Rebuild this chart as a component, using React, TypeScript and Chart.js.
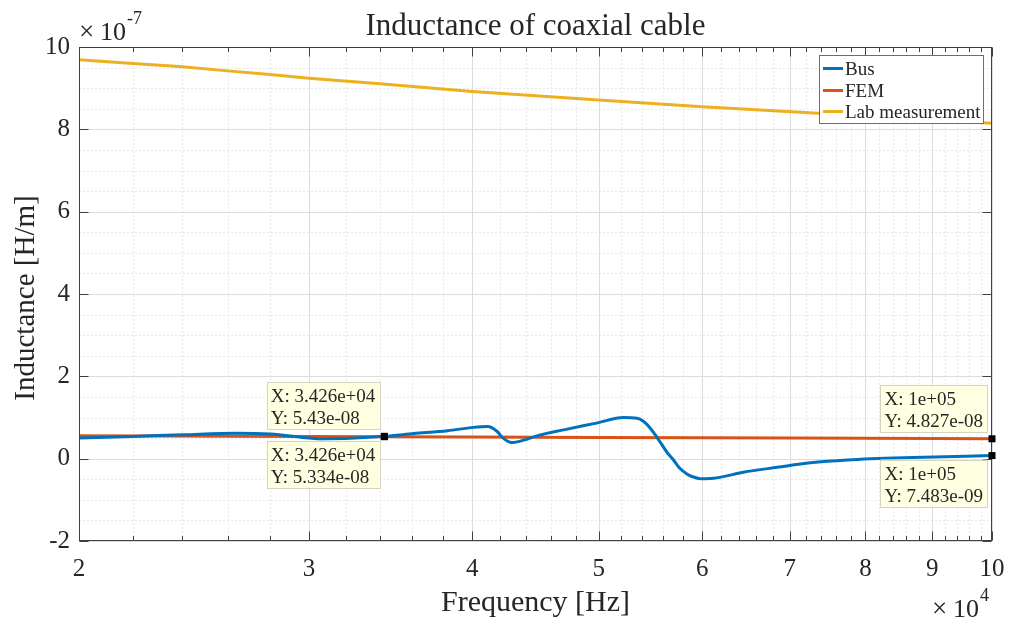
import React, { useEffect, useRef } from "react";
import { Chart, registerables } from "chart.js";

Chart.register(...registerables);

// ---------- data ----------
const busFreq = [
  20000, 22000, 24000, 26400, 28000, 30000, 30600, 32000, 34260, 36100, 38300,
  40100, 41100, 41800, 42200, 42900, 43800, 44900, 47000, 49900, 52200, 53500,
  54400, 55400, 56400, 57000, 57700, 58400, 59000, 59800, 61200, 64500, 68500, 72600,
  77500, 87000, 100000,
];
const busValues = [
  5.0e-8, 5.4e-8, 5.8e-8, 6.2e-8, 6.0e-8, 5.0e-8, 4.8e-8, 4.9e-8, 5.43e-8, 6.1e-8, 6.8e-8,
  7.6e-8, 7.8e-8, 6.6e-8, 5.1e-8, 3.9e-8, 4.5e-8, 5.6e-8, 7.0e-8, 8.7e-8, 1.0e-7, 9.8e-8,
  8.4e-8, 5.2e-8, 1.5e-8, -0.2e-8, -2.4e-8, -3.7e-8, -4.4e-8, -4.85e-8, -4.75e-8, -3.3e-8, -2.1e-8, -1.0e-8,
  -0.3e-8, 0.3e-8, 0.7483e-8,
];

const femFreq = [20000, 30000, 34260, 40000, 50000, 60000, 70000, 80000, 90000, 100000];
const femValues = [5.57e-8, 5.38e-8, 5.334e-8, 5.25e-8, 5.15e-8, 5.06e-8, 4.99e-8, 4.93e-8, 4.88e-8, 4.827e-8];

const labFreq = [20000, 22000, 24000, 26000, 28000, 30000, 34000, 40000, 50000, 60000, 73600, 80000, 90000, 100000];
const labValues = [9.69e-7, 9.6e-7, 9.52e-7, 9.42e-7, 9.33e-7, 9.24e-7, 9.11e-7, 8.92e-7, 8.71e-7, 8.55e-7, 8.39e-7, 8.31e-7, 8.22e-7, 8.15e-7];

const seriesNames = ["Bus", "FEM", "Lab measurement"];

const xMajorTicks = [20000, 30000, 40000, 50000, 60000, 70000, 80000, 90000, 100000];
const xTickLabels = ["2", "3", "4", "5", "6", "7", "8", "9", "10"];
const yMajorTicks = [-2e-7, 0, 2e-7, 4e-7, 6e-7, 8e-7, 1e-6];
const yTickLabels = ["-2", "0", "2", "4", "6", "8", "10"];

const tipFreqs = [34260, 34260, 100000, 100000];
const tipValues = [5.43e-8, 5.334e-8, 4.827e-8, 7.483e-9];
const tipXText = ["X: 3.426e+04", "X: 3.426e+04", "X: 1e+05", "X: 1e+05"];
const tipYText = ["Y: 5.43e-08", "Y: 5.334e-08", "Y: 4.827e-08", "Y: 7.483e-09"];
const tipAbove = [true, false, true, false];

const titleText = "Inductance of coaxial cable";
const xLabelText = "Frequency [Hz]";
const yLabelText = "Inductance [H/m]";
const yExponent = "-7";
const xExponent = "4";

// ---------- styles ----------
const SERIF = "'Liberation Serif', 'Times New Roman', serif";
const TEXT = "#262626";
const COLORS = ["#0072BD", "#D95319", "#EDB120"];

function minorTicks(majors: number[], parts: number): number[] {
  const out: number[] = [];
  for (let i = 0; i < majors.length - 1; i++) {
    const step = (majors[i + 1] - majors[i]) / parts;
    for (let k = 1; k < parts; k++) out.push(majors[i] + k * step);
  }
  return out;
}

function drawExponent(ctx: CanvasRenderingContext2D, x: number, base: number, exp: string) {
  ctx.textAlign = "left";
  ctx.font = `27px ${SERIF}`;
  ctx.fillText("\u00d7", x, base);
  ctx.font = `26px ${SERIF}`;
  ctx.fillText("10", x + 21, base);
  ctx.font = `18px ${SERIF}`;
  ctx.fillText(exp, x + 48, base - 16);
}

const decorPlugin = {
  id: "decor",
  beforeDatasetsDraw(chart: any) {
    const { ctx, chartArea: a, scales } = chart;
    const x = scales.x, y = scales.y;
    ctx.save();
    ctx.lineWidth = 1;
    // minor grid
    ctx.strokeStyle = "#e8e8e8";
    ctx.setLineDash([2, 2]);
    for (const v of minorTicks(xMajorTicks, 5)) {
      const p = Math.round(x.getPixelForValue(v)) + 0.5;
      ctx.beginPath(); ctx.moveTo(p, a.top); ctx.lineTo(p, a.bottom); ctx.stroke();
    }
    for (const v of minorTicks(yMajorTicks, 4)) {
      const p = Math.round(y.getPixelForValue(v)) + 0.5;
      ctx.beginPath(); ctx.moveTo(a.left, p); ctx.lineTo(a.right, p); ctx.stroke();
    }
    // major grid
    ctx.setLineDash([]);
    ctx.strokeStyle = "#dcdcdc";
    for (const v of xMajorTicks) {
      const p = Math.round(x.getPixelForValue(v)) + 0.5;
      ctx.beginPath(); ctx.moveTo(p, a.top); ctx.lineTo(p, a.bottom); ctx.stroke();
    }
    for (const v of yMajorTicks) {
      const p = Math.round(y.getPixelForValue(v)) + 0.5;
      ctx.beginPath(); ctx.moveTo(a.left, p); ctx.lineTo(a.right, p); ctx.stroke();
    }
    ctx.restore();
  },
  afterDatasetsDraw(chart: any) {
    const { ctx, chartArea: a, scales } = chart;
    const x = scales.x, y = scales.y;
    ctx.save();
    // axes box
    ctx.strokeStyle = "#404040";
    ctx.lineWidth = 1;
    const L = Math.round(a.left) + 0.5, R = Math.round(a.right) - 0.5;
    const T = Math.round(a.top) + 0.5, B = Math.round(a.bottom) - 0.5;
    ctx.strokeRect(L, T, R - L, B - T);
    // ticks (inward)
    ctx.beginPath();
    for (const v of xMajorTicks) {
      const p = Math.round(x.getPixelForValue(v)) + 0.5;
      ctx.moveTo(p, B); ctx.lineTo(p, B - 9);
      ctx.moveTo(p, T); ctx.lineTo(p, T + 9);
    }
    for (const v of minorTicks(xMajorTicks, 5)) {
      const p = Math.round(x.getPixelForValue(v)) + 0.5;
      ctx.moveTo(p, B); ctx.lineTo(p, B - 4.5);
      ctx.moveTo(p, T); ctx.lineTo(p, T + 4.5);
    }
    for (const v of yMajorTicks) {
      const p = Math.round(y.getPixelForValue(v)) + 0.5;
      ctx.moveTo(L, p); ctx.lineTo(L + 9, p);
      ctx.moveTo(R, p); ctx.lineTo(R - 9, p);
    }
    ctx.stroke();

    // datatips
    ctx.font = `19px ${SERIF}`;
    ctx.textBaseline = "alphabetic";
    ctx.textAlign = "left";
    for (let i = 0; i < tipFreqs.length; i++) {
      const mx = x.getPixelForValue(tipFreqs[i]);
      const my = y.getPixelForValue(tipValues[i]);
      const w = Math.max(ctx.measureText(tipXText[i]).width, ctx.measureText(tipYText[i]).width) + 8;
      const h = 47;
      const right = mx - 5;
      const top = tipAbove[i] ? my - 7 - h : my + 4;
      const left = right - w;
      ctx.fillStyle = "#ffffe1";
      ctx.fillRect(left, top, w, h);
      ctx.strokeStyle = "#d4d4c4";
      ctx.strokeRect(Math.round(left) + 0.5, Math.round(top) + 0.5, Math.round(w), h);
      ctx.fillStyle = TEXT;
      ctx.fillText(tipXText[i], left + 4, top + 20);
      ctx.fillText(tipYText[i], left + 4, top + 42);
      ctx.fillStyle = "#000000";
      ctx.fillRect(mx - 3.5, my - 3.5, 7, 7);
    }

    // legend
    const lx = 819.5, ly = 55.5, lw = 164, lh = 68;
    ctx.fillStyle = "#ffffff";
    ctx.fillRect(lx, ly, lw, lh);
    ctx.strokeStyle = "#6e6e6e";
    ctx.strokeRect(lx, ly, lw, lh);
    ctx.font = `19px ${SERIF}`;
    ctx.textBaseline = "alphabetic";
    const rowY = [68.5, 90.5, 111.5];
    seriesNames.forEach((name, i) => {
      ctx.strokeStyle = COLORS[i];
      ctx.lineWidth = 3;
      ctx.beginPath(); ctx.moveTo(823, rowY[i]); ctx.lineTo(843, rowY[i]); ctx.stroke();
      ctx.fillStyle = TEXT;
      ctx.fillText(name, 845, rowY[i] + 6);
    });

    // title
    ctx.fillStyle = TEXT;
    ctx.font = `31px ${SERIF}`;
    ctx.textAlign = "center";
    ctx.fillText(titleText, (a.left + a.right) / 2, 35);

    // x label
    ctx.font = `30px ${SERIF}`;
    ctx.fillText(xLabelText, (a.left + a.right) / 2, 611);

    // y label
    ctx.save();
    ctx.translate(34, 298);
    ctx.rotate(-Math.PI / 2);
    ctx.font = `29px ${SERIF}`;
    ctx.fillText(yLabelText, 0, 0);
    ctx.restore();

    // exponent labels
    drawExponent(ctx, 79, 40, yExponent);
    drawExponent(ctx, 932, 617, xExponent);
    ctx.restore();
  },
};

function toPoints(xs: number[], ys: number[]) {
  return xs.map((v, i) => ({ x: v, y: ys[i] }));
}

export default function App() {
  const ref = useRef<HTMLCanvasElement | null>(null);
  useEffect(() => {
    if (!ref.current) return;
    const tickFont = { family: SERIF, size: 25 };
    const chart = new Chart(ref.current, {
      type: "line",
      data: {
        datasets: [
          {
            label: seriesNames[0],
            data: toPoints(busFreq, busValues),
            borderColor: COLORS[0],
            borderWidth: 3,
            pointRadius: 0,
            cubicInterpolationMode: "monotone",
            fill: false,
          },
          {
            label: seriesNames[1],
            data: toPoints(femFreq, femValues),
            borderColor: COLORS[1],
            borderWidth: 3,
            pointRadius: 0,
            tension: 0,
            fill: false,
          },
          {
            label: seriesNames[2],
            data: toPoints(labFreq, labValues),
            borderColor: COLORS[2],
            borderWidth: 3,
            pointRadius: 0,
            tension: 0,
            fill: false,
          },
        ],
      },
      options: {
        animation: false,
        responsive: false,
        maintainAspectRatio: false,
        devicePixelRatio: 1,
        parsing: false as any,
        normalized: true,
        layout: { padding: { top: 47, right: 18, left: 0, bottom: 0 } },
        plugins: {
          legend: { display: false },
          title: { display: false },
          tooltip: { enabled: false },
        },
        scales: {
          x: {
            type: "logarithmic",
            min: 20000,
            max: 100000,
            afterBuildTicks: (s: any) => {
              s.ticks = xMajorTicks.map((v) => ({ value: v }));
            },
            afterFit: (s: any) => {
              s.height = 78;
              s.paddingLeft = 0;
              s.paddingRight = 0;
            },
            ticks: {
              autoSkip: false,
              maxRotation: 0,
              minRotation: 0,
              padding: 13,
              color: TEXT,
              font: tickFont,
              callback: (v: any) => xTickLabels[xMajorTicks.indexOf(Number(v))] ?? "",
            },
            grid: { display: false, drawTicks: false },
            border: { display: false },
          },
          y: {
            type: "linear",
            min: -2e-7,
            max: 1e-6,
            afterBuildTicks: (s: any) => {
              s.ticks = yMajorTicks.map((v) => ({ value: v }));
            },
            afterFit: (s: any) => {
              s.width = 79;
              s.paddingTop = 0;
              s.paddingBottom = 0;
            },
            ticks: {
              autoSkip: false,
              padding: 9,
              color: TEXT,
              font: tickFont,
              callback: (v: any) => yTickLabels[yMajorTicks.indexOf(Number(v))] ?? "",
            },
            grid: { display: false, drawTicks: false },
            border: { display: false },
          },
        },
      } as any,
      plugins: [decorPlugin],
    });
    return () => chart.destroy();
  }, []);
  return (
    <div style={{ position: "absolute", left: 0, top: 0, width: 1010, height: 619, background: "#ffffff" }}>
      <canvas ref={ref} width={1010} height={619} style={{ display: "block", width: 1010, height: 619 }} />
    </div>
  );
}
